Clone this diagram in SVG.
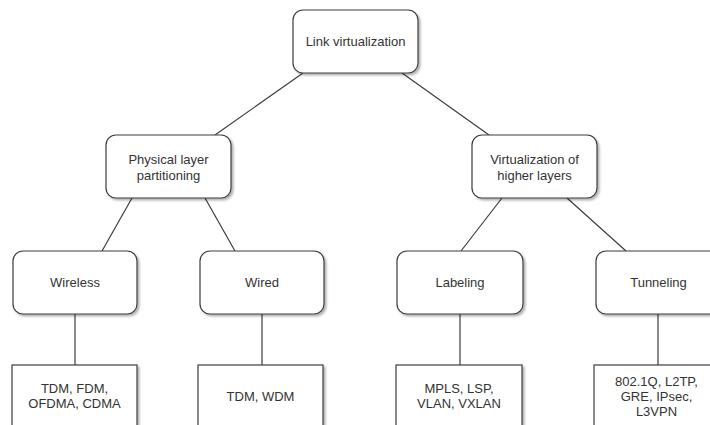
<svg xmlns="http://www.w3.org/2000/svg" width="710" height="425" viewBox="0 0 710 425">
<defs>
<filter id="sh" x="-10%" y="-10%" width="130%" height="130%">
<feDropShadow dx="2" dy="2" stdDeviation="1" flood-color="#000" flood-opacity="0.3"/>
</filter>
</defs>
<style>
.box{fill:#fff;stroke:#3c3c3c;stroke-width:1.2;filter:url(#sh)}
.t{font-family:"Liberation Sans",Arial,sans-serif;font-size:13px;fill:#333;text-anchor:middle}
.c{stroke:#3c3c3c;stroke-width:1.2;fill:none}
</style>
<rect width="710" height="425" fill="#fff"/>
<g id="connectors">
<line class="c" x1="303" y1="73" x2="215" y2="135"/>
<line class="c" x1="402" y1="73" x2="489" y2="135"/>
<line class="c" x1="132" y1="198" x2="102" y2="251"/>
<line class="c" x1="205" y1="198" x2="235" y2="251"/>
<line class="c" x1="502" y1="198" x2="461" y2="251"/>
<line class="c" x1="567" y1="198" x2="626" y2="251"/>
<line class="c" x1="75" y1="314" x2="75" y2="365"/>
<line class="c" x1="262" y1="314" x2="262" y2="365"/>
<line class="c" x1="460" y1="314" x2="460" y2="365"/>
<line class="c" x1="658" y1="314" x2="658" y2="365"/>
</g>
<g id="root">
<rect class="box" x="293" y="10" width="125" height="63" rx="10"/>
<text class="t" x="355.5" y="46">Link virtualization</text>
</g>
<g id="physical">
<rect class="box" x="106" y="135" width="125" height="63" rx="10"/>
<text class="t" x="168.5" y="164">Physical layer</text>
<text class="t" x="168.5" y="180">partitioning</text>
</g>
<g id="virtualization">
<rect class="box" x="472" y="135" width="125" height="63" rx="10"/>
<text class="t" x="534.5" y="164">Virtualization of</text>
<text class="t" x="534.5" y="180">higher layers</text>
</g>
<g id="wireless">
<rect class="box" x="13" y="251" width="124" height="63" rx="10"/>
<text class="t" x="75" y="287">Wireless</text>
</g>
<g id="wired">
<rect class="box" x="200" y="251" width="124" height="63" rx="10"/>
<text class="t" x="262" y="287">Wired</text>
</g>
<g id="labeling">
<rect class="box" x="397" y="251" width="126" height="63" rx="10"/>
<text class="t" x="460" y="287">Labeling</text>
</g>
<g id="tunneling">
<rect class="box" x="596" y="251" width="125" height="63" rx="10"/>
<text class="t" x="658.5" y="287">Tunneling</text>
</g>
<g id="leaf-wireless">
<rect class="box" x="12" y="365" width="125" height="63"/>
<text class="t" x="74.5" y="393">TDM, FDM,</text>
<text class="t" x="74.5" y="408">OFDMA, CDMA</text>
</g>
<g id="leaf-wired">
<rect class="box" x="198" y="365" width="125" height="63"/>
<text class="t" x="260.5" y="401">TDM, WDM</text>
</g>
<g id="leaf-labeling">
<rect class="box" x="396" y="365" width="126" height="63"/>
<text class="t" x="459" y="393">MPLS, LSP,</text>
<text class="t" x="459" y="408">VLAN, VXLAN</text>
</g>
<g id="leaf-tunneling">
<rect class="box" x="594" y="365" width="125" height="63"/>
<text class="t" x="656.5" y="386">802.1Q, L2TP,</text>
<text class="t" x="656.5" y="401">GRE, IPsec,</text>
<text class="t" x="656.5" y="416">L3VPN</text>
</g>
</svg>
